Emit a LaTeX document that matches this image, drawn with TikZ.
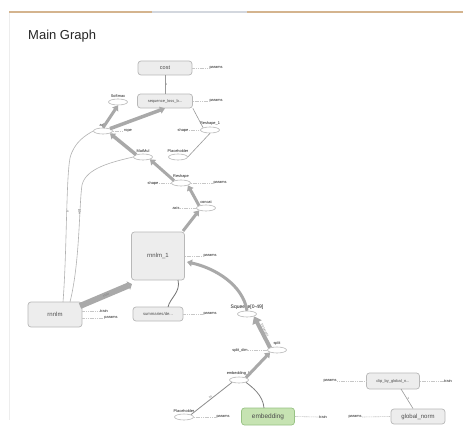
\documentclass[tikz,border=0pt]{standalone}
\usepackage{fontspec}
\setmainfont{Liberation Sans}
\usetikzlibrary{arrows.meta,shapes.geometric,calc,positioning}
\definecolor{boxfill}{HTML}{EDEDED}
\definecolor{boxline}{HTML}{B8B8B8}
\definecolor{edgegray}{HTML}{A9A9A9}
\definecolor{greenfill}{HTML}{C6E3B2}
\definecolor{greenline}{HTML}{98C284}
\definecolor{tanline}{HTML}{D4B48E}
\definecolor{tabgray}{HTML}{D3D7DE}
\begin{document}
\begin{tikzpicture}[x=1pt,y=-1pt,
  gbox/.style={draw=boxline,fill=boxfill,rounded corners=3pt,line width=0.7pt,inner sep=0pt,font=\fontsize{5.5}{6}\selectfont,text=black!70},
  opnode/.style={draw=boxline,fill=white,ellipse,minimum width=19pt,minimum height=6pt,inner sep=0pt,line width=0.6pt},
  lbl/.style={font=\fontsize{3.9}{4}\selectfont,text=black!90,inner sep=0.3pt},
  aux/.style={draw=black!22,line width=0.6pt,dash pattern=on 1.2pt off 0.6pt},
  bigedge/.style={draw=edgegray,line width=3pt,-{Triangle[length=5pt,width=7pt]}},
  thinedge/.style={draw=black!40,line width=0.6pt},
  elbl/.style={font=\fontsize{3}{3.5}\selectfont,text=black!55,inner sep=0.3pt},
]
\path[use as bounding box,fill=white] (0,0) rectangle (463,428);
% top bar
\draw[tanline,line width=1.4pt] (9,12) coordinate (barl) -- (463,12) coordinate (barr);
\draw[tabgray,line width=1.4pt] (152,12) coordinate (tabl) -- (247,12) coordinate (tabr);
\draw[black!7,line width=0.6pt] (9,13) coordinate (lbt) -- (9,420) coordinate (lbb);
\node[anchor=west,font=\fontsize{13}{15}\selectfont,text=black!85,inner sep=0pt] (title) at (28,36) {Main Graph};

% boxes
\node[gbox,minimum width=54pt,minimum height=14pt] (cost) at (165,68) {cost};
\node[gbox,minimum width=55pt,minimum height=14pt,font=\fontsize{4}{5}\selectfont] (seq) at (165,101) {sequence\_loss\_b...};
\node[gbox,minimum width=53pt,minimum height=48pt,font=\fontsize{6}{7}\selectfont] (rnnlm1) at (158,256) {rnnlm\_1};
\node[gbox,minimum width=54pt,minimum height=25pt,font=\fontsize{6}{7}\selectfont] (rnnlm) at (55,314.5) {rnnlm};
\node[gbox,minimum width=50pt,minimum height=14pt,font=\fontsize{4.2}{5}\selectfont] (summ) at (158,314) {summaries/de...};
\node[gbox,fill=greenfill,draw=greenline,minimum width=53pt,minimum height=17pt,font=\fontsize{6.5}{7}\selectfont] (emb) at (268,416.5) {embedding};
\node[gbox,minimum width=53pt,minimum height=16pt,font=\fontsize{4}{5}\selectfont] (clip) at (393,381) {clip\_by\_global\_n...};
\node[gbox,minimum width=54pt,minimum height=15pt,font=\fontsize{6}{7}\selectfont] (gnorm) at (418,416.5) {global\_norm};

% op nodes
\node[opnode] (softmax) at (118,102) {};
\node[lbl,above=0.8pt of softmax] (softmaxl) {Softmax};
\node[opnode] (add) at (103,131) {};
\node[lbl,above=0.8pt of add] (addl) {add};
\node[opnode] (reshape1) at (210,130) {};
\node[lbl,above=0.8pt of reshape1] (reshape1l) {Reshape\_1};
\node[opnode] (ph1) at (178,157) {};
\node[lbl,above=0.8pt of ph1] (ph1l) {Placeholder};
\node[opnode] (matmul) at (143,157) {};
\node[lbl,above=0.8pt of matmul] (matmull) {MatMul};
\node[opnode] (reshape) at (181,183) {};
\node[lbl,above=0.8pt of reshape] (reshapel) {Reshape};
\node[opnode] (concat) at (206,208) {};
\node[lbl,above=0.8pt of concat] (concatl) {concat};
\node[opnode] (squeeze) at (247,314) {};
\node[lbl,font=\fontsize{5}{6}\selectfont,above=0.8pt of squeeze] (squeezel) {Squeeze[0-49]};
\node[opnode] (split) at (277,350) {};
\node[lbl,above=0.8pt of split] (splitl) {split};
\node[opnode] (emblk) at (239,380) {};
\node[lbl,above=0.8pt of emblk] (emblkl) {embedding\_lo};
\node[opnode] (ph2) at (184,417) {};
\node[lbl,above=0.8pt of ph2] (ph2l) {Placeholder};

% auxiliary labels
\node[lbl] (p1) at (216,68) {params};
\draw[aux] (cost.east) -- (p1.west);
\node[lbl] (p2) at (216,101) {params};
\draw[aux] (seq.east) -- (p2.west);
\node[lbl] (shp1) at (183,130) {shape};
\draw[aux] (shp1.east) -- (reshape1.west);
\node[lbl] (tup) at (128,131) {rope};
\draw[aux] (add.east) -- (tup.west);
\node[lbl] (shp2) at (153,183) {shape};
\draw[aux] (shp2.east) -- (reshape.west);
\node[lbl] (p3) at (220,183) {params};
\draw[aux] (reshape.east) -- (p3.west);
\node[lbl] (axis) at (176,208) {axis};
\draw[aux] (axis.east) -- (concat.west);
\node[lbl] (p4) at (210,256) {params};
\draw[aux] (rnnlm1.east) -- (p4.west);
\node[lbl] (p5) at (210,314) {params};
\draw[aux] (summ.east) -- (p5.west);
\node[lbl] (tr1) at (104,311) {train};
\draw[aux] (rnnlm.east |- tr1) -- (tr1.west);
\node[lbl] (p6) at (111,318) {params};
\draw[aux] (rnnlm.east |- p6) -- (p6.west);
\node[lbl] (sdim) at (240,350) {split\_dim};
\draw[aux] (sdim.east) -- (split.west);
\node[lbl] (p7) at (223,417) {params};
\draw[aux] (ph2.east) -- (p7.west);
\node[lbl] (tr2) at (323,417) {train};
\draw[aux] (emb.east) -- (tr2.west);
\node[lbl] (p8) at (330,381) {params};
\draw[aux] (p8.east) -- (clip.west);
\node[lbl] (tr3) at (448,381) {train};
\draw[aux] (clip.east) -- (tr3.west);
\node[lbl] (p9) at (355,417) {params};
\draw[aux] (p9.east) -- (gnorm.west);

% thin edges
\draw[thinedge] (seq.north) -- (cost.south) node[midway,right,elbl] {1};
\draw[thinedge] (reshape1.north west) -- (seq.south east);
\draw[thinedge] (ph1.east) -- (reshape1.south);
\draw[thinedge,draw=black!30] (63,302) .. controls (67,250) and (66,180) .. (70,158) .. controls (74,142) and (86,135) .. (add.west);
\draw[thinedge,draw=black!30] (70,302) .. controls (80,262) and (79,205) .. (82,185) .. controls (86,168) and (112,162) .. (matmul.west);
\node[elbl,rotate=90] (lw) at (67.5,212) {b};
\node[elbl,rotate=90] (lw2) at (79.5,212) {w[0]};
\draw[thinedge,draw=black!55,line width=0.8pt] (178,280) .. controls (181,292) and (170,298) .. (168,307);
\draw[thinedge,draw=black!50,line width=0.8pt] (264,408) .. controls (263,395) and (252,387) .. (emblk.south east);
\draw[thinedge,draw=black!45,line width=0.8pt] (ph2.north east) -- (emblk.south west) node[midway,sloped,above,elbl] {int};
\draw[thinedge] (401,389) -- (413,408.5) node[midway,right,elbl] {1};

% thick edges
\draw[bigedge] (add.north) -- (softmax.south);
\draw[bigedge,line width=3.5pt] (add.north east) -- (seq.south);
\draw[bigedge,line width=3.5pt] (matmul.north west) -- (add.south east);
\draw[bigedge] (reshape.north west) -- (matmul.south east);
\draw[bigedge] (concat.north west) -- (reshape.south east);
\draw[bigedge] (183,231) -- (concat.south west);
\draw[bigedge] (squeeze.north) .. controls (243,285) and (215,268) .. (187,262);
\draw[bigedge,line width=4pt,-{Triangle[length=7pt,width=10pt]}] (split.north west) -- (squeeze.south east) node[midway,sloped,above,elbl] {50 tensors};
\draw[bigedge] (emblk.north east) -- (split.south west);
\draw[bigedge,line width=6pt,-{Triangle[length=4pt,width=9pt]}] (80,306) -- (132,284) node[midway,sloped,elbl,text=black!50] {state};
\end{tikzpicture}
\end{document}
